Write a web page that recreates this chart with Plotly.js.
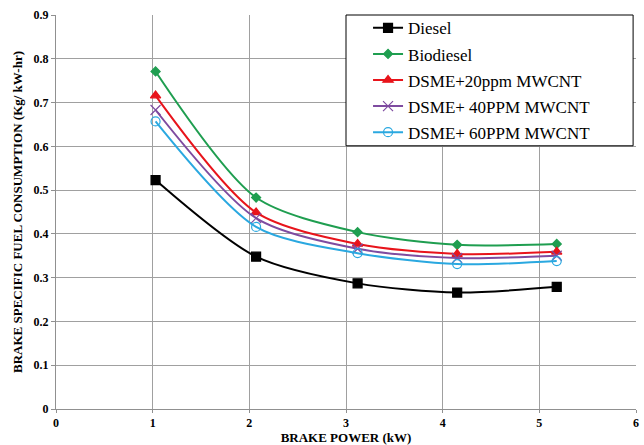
<!DOCTYPE html>
<html><head><meta charset="utf-8">
<script src="https://cdn.plot.ly/plotly-3.0.1.min.js"></script>
<style>body{margin:0;background:#fff}#c{width:644px;height:445px}</style>
</head><body><div id="c"></div>
<script>
const power = [1.03, 2.07, 3.12, 4.15, 5.18];
const diesel = [0.523, 0.348, 0.287, 0.266, 0.279];
const biodiesel = [0.771, 0.483, 0.404, 0.375, 0.377];
const dsme20 = [0.716, 0.449, 0.377, 0.354, 0.359];
const dsme40 = [0.683, 0.436, 0.366, 0.345, 0.350];
const dsme60 = [0.657, 0.416, 0.356, 0.331, 0.338];
const names = ['Diesel','Biodiesel','DSME+20ppm MWCNT','DSME+ 40PPM MWCNT','DSME+ 60PPM MWCNT'];
const series = [diesel, biodiesel, dsme20, dsme40, dsme60];
const colors = ['#000000','#1f9e50','#e8141b','#7e4ba0','#2aa8e0'];
const symbols = ['square','diamond','triangle-up','x-thin-open','circle-open'];
const sizes = [9,7,9,10,9];
const traces = series.map((s,i)=>({
  x: power, y: s, name: names[i], legendgroup:'g'+i, type:'scatter', mode:'lines+markers',
  line:{color:colors[i], width:2, shape:'spline', smoothing:0.8},
  marker:{symbol:symbols[i], size:sizes[i], color:colors[i], line:{color:colors[i], width:1.2}}
}));
const fam = 'Liberation Serif, Times New Roman, DejaVu Serif, serif';
Plotly.newPlot('c', traces, {
  width:644, height:445,
  margin:{l:56, r:8, t:15, b:36},
  paper_bgcolor:'#fff', plot_bgcolor:'#fff',
  font: {family:fam, color:'#000'},
  showlegend:true,
  legend:{x:0.538, y:1.012, xanchor:'left', yanchor:'top', bgcolor:'rgba(0,0,0,0)', borderwidth:0,
    font:{family:fam, size:17, color:'#000'}, itemwidth:30, tracegroupgap:1},
  shapes:[{type:'rect', xref:'paper', yref:'paper', x0:0.5, x1:0.995, y0:0.668, y1:1.0,
    line:{color:'#000', width:1}, fillcolor:'#fff', layer:'above'}],
  xaxis:{range:[0,6], dtick:1, tick0:0, showgrid:true, gridcolor:'#a0a0a0', gridwidth:1,
    showline:true, linecolor:'#909090', ticks:'outside', ticklen:3, tickcolor:'#909090', zeroline:false,
    tickfont:{family:fam, size:12, color:'#000', weight:'bold'},
    title:{text:'<b>BRAKE POWER (kW)</b>', font:{family:fam, size:13, color:'#000'}, standoff:1}},
  yaxis:{range:[0,0.9], dtick:0.1, tick0:0, showgrid:true, gridcolor:'#a0a0a0', gridwidth:1,
    showline:true, linecolor:'#909090', ticks:'outside', ticklen:4, tickcolor:'#909090', zeroline:false,
    tickfont:{family:fam, size:12, color:'#000', weight:'bold'},
    title:{text:'<b>BRAKE SPECIFIC FUEL CONSUMPTION (Kg/ kW-hr)</b>', font:{family:fam, size:13, color:'#000'}, standoff:8}}
}, {displayModeBar:false, staticPlot:true});
</script></body></html>
